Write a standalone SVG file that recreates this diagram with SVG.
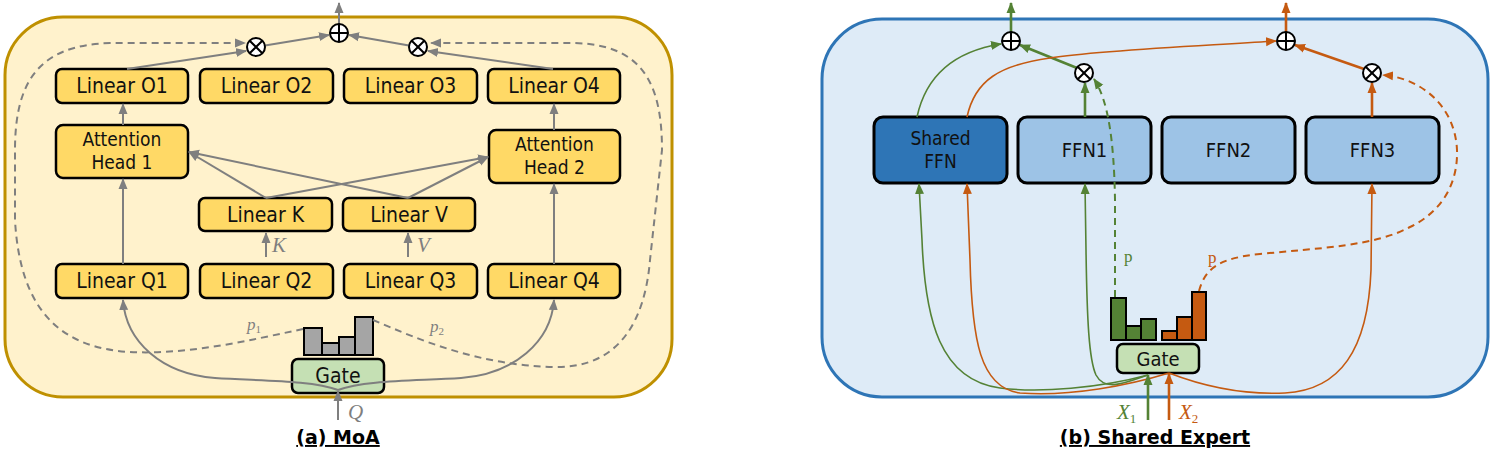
<svg xmlns="http://www.w3.org/2000/svg" width="1495" height="454" viewBox="0 0 1495 454">
<defs>
<marker id="ag" markerUnits="userSpaceOnUse" markerWidth="12" markerHeight="10" refX="10" refY="5" orient="auto"><path d="M0,0.5 L11,5 L0,9.5 z" fill="#7f7f7f"/></marker>
<marker id="agr" markerUnits="userSpaceOnUse" markerWidth="12" markerHeight="10" refX="10" refY="5" orient="auto"><path d="M0,0.5 L11,5 L0,9.5 z" fill="#548235"/></marker>
<marker id="aor" markerUnits="userSpaceOnUse" markerWidth="12" markerHeight="10" refX="10" refY="5" orient="auto"><path d="M0,0.5 L11,5 L0,9.5 z" fill="#c55a11"/></marker>
<g id="otimes"><circle r="9" fill="#fff" stroke="#000" stroke-width="2"/><path d="M-6.3,-6.3 L6.3,6.3 M6.3,-6.3 L-6.3,6.3" stroke="#000" stroke-width="2"/></g>
<g id="oplus"><circle r="9" fill="#fff" stroke="#000" stroke-width="2"/><path d="M-9,0 L9,0 M0,-9 L0,9" stroke="#000" stroke-width="2"/></g>
</defs>
<style>
.lbl{font-family:"DejaVu Sans Condensed","DejaVu Sans",sans-serif;font-size:21px;fill:#111;text-anchor:middle}
.lbl2{font-family:"DejaVu Sans Condensed","DejaVu Sans",sans-serif;font-size:19px;fill:#111;text-anchor:middle}
.lblb{font-family:"DejaVu Sans Condensed","DejaVu Sans",sans-serif;font-size:20px;fill:#111;text-anchor:middle}
.box{fill:#ffd966;stroke:#000;stroke-width:2.5}
.gate{fill:#c5e0b4;stroke:#000;stroke-width:2.5}
.mth{font-family:"Liberation Serif","DejaVu Serif",serif;font-style:italic}
.cap{font-family:"DejaVu Sans","Liberation Sans",sans-serif;font-weight:bold;font-size:19px;fill:#000;text-anchor:middle;text-decoration:underline}
.g{fill:none;stroke:#7f7f7f;stroke-width:2}
.gd{fill:none;stroke:#7f7f7f;stroke-width:2;stroke-dasharray:7,5}
.gr{fill:none;stroke:#548235;stroke-width:1.6}
.grt{fill:none;stroke:#548235;stroke-width:2.6}
.grd{fill:none;stroke:#548235;stroke-width:2;stroke-dasharray:7,5}
.or{fill:none;stroke:#c55a11;stroke-width:1.6}
.ort{fill:none;stroke:#c55a11;stroke-width:2.6}
.ord{fill:none;stroke:#c55a11;stroke-width:2;stroke-dasharray:7,5}
.bar{stroke:#000;stroke-width:2}
</style>

<!-- Panels -->
<g id="panel-a">
<rect x="5" y="17" width="667" height="380" rx="58" fill="#fff2cc" stroke="#bf9000" stroke-width="3"/>
</g>
<g id="panel-b">
<rect x="822" y="19" width="666" height="378" rx="60" fill="#deebf7" stroke="#2e75b6" stroke-width="3"/>
</g>

<!-- Panel (a) nodes -->
<g id="a-linear-o1"><rect class="box" x="56" y="69" width="132" height="34" rx="6"/><text class="lbl" x="122" y="93">Linear O1</text></g>
<g id="a-linear-o2"><rect class="box" x="200" y="69" width="133" height="34" rx="6"/><text class="lbl" x="266.5" y="93">Linear O2</text></g>
<g id="a-linear-o3"><rect class="box" x="344" y="69" width="133" height="34" rx="6"/><text class="lbl" x="410.5" y="93">Linear O3</text></g>
<g id="a-linear-o4"><rect class="box" x="488" y="69" width="132" height="34" rx="6"/><text class="lbl" x="554" y="93">Linear O4</text></g>
<g id="a-head1"><rect class="box" x="56" y="125" width="132" height="53" rx="7"/><text class="lbl2" x="122" y="146">Attention</text><text class="lbl2" x="122" y="168.5">Head 1</text></g>
<g id="a-head2"><rect class="box" x="489" y="130" width="131" height="53" rx="7"/><text class="lbl2" x="554.5" y="151">Attention</text><text class="lbl2" x="554.5" y="173.5">Head 2</text></g>
<g id="a-linear-k"><rect class="box" x="199" y="198" width="133" height="33" rx="6"/><text class="lbl" x="265.5" y="222">Linear K</text></g>
<g id="a-linear-v"><rect class="box" x="343" y="198" width="132" height="33" rx="6"/><text class="lbl" x="409" y="222">Linear V</text></g>
<g id="a-linear-q1"><rect class="box" x="56" y="264" width="132" height="34" rx="6"/><text class="lbl" x="122" y="288">Linear Q1</text></g>
<g id="a-linear-q2"><rect class="box" x="200" y="264" width="133" height="34" rx="6"/><text class="lbl" x="266.5" y="288">Linear Q2</text></g>
<g id="a-linear-q3"><rect class="box" x="344" y="264" width="133" height="34" rx="6"/><text class="lbl" x="410.5" y="288">Linear Q3</text></g>
<g id="a-linear-q4"><rect class="box" x="488" y="264" width="132" height="34" rx="6"/><text class="lbl" x="554" y="288">Linear Q4</text></g>
<g id="a-bars">
<rect class="bar" x="304" y="328" width="18" height="27" fill="#a5a5a5"/>
<rect class="bar" x="322" y="343" width="17" height="12" fill="#a5a5a5"/>
<rect class="bar" x="339" y="337" width="16" height="18" fill="#a5a5a5"/>
<rect class="bar" x="355" y="317" width="18" height="38" fill="#a5a5a5"/>
</g>
<g id="a-gate"><rect class="gate" x="292" y="359" width="92" height="34" rx="6"/><text class="lbl" x="338" y="383">Gate</text></g>

<!-- Panel (b) nodes -->
<g id="b-shared"><rect x="874" y="117" width="133" height="66" rx="9" fill="#2e75b6" stroke="#000" stroke-width="3"/><text class="lbl2" x="940.5" y="145">Shared</text><text class="lbl2" x="940.5" y="167.5">FFN</text></g>
<g id="b-ffn1"><rect x="1018" y="117" width="133" height="66" rx="9" fill="#9dc3e6" stroke="#000" stroke-width="3"/><text class="lblb" x="1084.5" y="157">FFN1</text></g>
<g id="b-ffn2"><rect x="1162" y="117" width="133" height="66" rx="9" fill="#9dc3e6" stroke="#000" stroke-width="3"/><text class="lblb" x="1228.5" y="157">FFN2</text></g>
<g id="b-ffn3"><rect x="1306" y="117" width="133" height="66" rx="9" fill="#9dc3e6" stroke="#000" stroke-width="3"/><text class="lblb" x="1372.5" y="157">FFN3</text></g>
<g id="b-bars">
<rect class="bar" x="1111" y="298" width="15" height="42" fill="#548235"/>
<rect class="bar" x="1126" y="326" width="15" height="14" fill="#548235"/>
<rect class="bar" x="1141" y="319" width="15" height="21" fill="#548235"/>
<rect class="bar" x="1162" y="331" width="15" height="9" fill="#c55a11"/>
<rect class="bar" x="1177" y="317" width="15" height="23" fill="#c55a11"/>
<rect class="bar" x="1192" y="292" width="14" height="48" fill="#c55a11"/>
</g>
<g id="b-gate"><rect class="gate" x="1117" y="344" width="82" height="29" rx="6"/><text class="lblb" x="1158" y="366">Gate</text></g>

<!-- Connectors -->
<g id="connectors">
<path class="g" d="M339,24 L339,3" marker-end="url(#ag)"/>
<path class="g" d="M265,45.5 L329,35" marker-end="url(#ag)"/>
<path class="g" d="M409,45.5 L349,35" marker-end="url(#ag)"/>
<path class="g" d="M127,69 L246,51" marker-end="url(#ag)"/>
<path class="g" d="M553,69 L428,51" marker-end="url(#ag)"/>
<path class="g" d="M123,125 L123,104" marker-end="url(#ag)"/>
<path class="g" d="M123,264 L123,179" marker-end="url(#ag)"/>
<path class="g" d="M554,130 L554,104" marker-end="url(#ag)"/>
<path class="g" d="M554,264 L554,184" marker-end="url(#ag)"/>
<path class="g" d="M266,198 L189,152" marker-end="url(#ag)"/>
<path class="g" d="M408,198 L189,152" marker-end="url(#ag)"/>
<path class="g" d="M266,198 L488,157" marker-end="url(#ag)"/>
<path class="g" d="M408,198 L488,157" marker-end="url(#ag)"/>
<path class="g" d="M266,257 L266,233" marker-end="url(#ag)"/>
<path class="g" d="M408,257 L408,233" marker-end="url(#ag)"/>
<path class="g" d="M338,420 L338,391" marker-end="url(#ag)"/>
<path class="g" d="M338,390 C312,380 262,381 215,378 C162,374 126,342 123,300" marker-end="url(#ag)"/>
<path class="g" d="M338,390 C364,380 414,381 461,378 C514,374 551,342 554,300" marker-end="url(#ag)"/>
<path class="gd" d="M303,329 C250,340 190,355 130,352 C60,348 20,310 15,220 L15,150 C15,80 40,45 110,43 L245,43" marker-end="url(#ag)"/>
<path class="gd" d="M373,320 C420,340 480,366 557,367 C620,367 645,320 650,260 L662,150 C662,80 640,45 575,43 L431,43" marker-end="url(#ag)"/>

<path class="grt" d="M1011,32 L1011,3" marker-end="url(#agr)"/>
<path class="ort" d="M1286,32 L1286,3" marker-end="url(#aor)"/>
<path class="gr" d="M917,117 C925,80 950,52 1001,44" marker-end="url(#agr)"/>
<path class="grt" d="M1077,68 L1020,45" marker-end="url(#agr)"/>
<path class="grt" d="M1085,117 L1085,83" marker-end="url(#agr)"/>
<path class="grd" d="M1115,297 L1115,200 C1114,140 1108,100 1094,79" marker-end="url(#agr)"/>
<path class="or" d="M967,117 C975,80 1000,65 1050,58 C1100,50 1200,46 1276,41" marker-end="url(#aor)"/>
<path class="ort" d="M1364,69 L1295,45" marker-end="url(#aor)"/>
<path class="ort" d="M1372,117 L1372,83" marker-end="url(#aor)"/>
<path class="ord" d="M1199,291 C1205,268 1220,258 1260,254 C1320,248 1375,246 1410,227 C1445,210 1458,180 1457,150 C1455,105 1420,78 1383,75" marker-end="url(#aor)"/>
<path class="gr" d="M1148,375 C1100,388 1040,393 1000,388 C940,380 925,320 922,240 L919,184" marker-end="url(#agr)"/>
<path class="gr" d="M1148,375 C1125,383 1105,392 1096,375 C1089,360 1087,320 1086,250 L1085,184" marker-end="url(#agr)"/>
<path class="or" d="M1169,373 C1130,385 1070,397 1020,393 C980,388 972,340 970,260 L967,184" marker-end="url(#aor)"/>
<path class="or" d="M1169,373 C1200,385 1240,395 1285,393 C1340,390 1368,350 1371,270 L1372,184" marker-end="url(#aor)"/>
<path class="grt" d="M1148,420 L1148,375" marker-end="url(#agr)"/>
<path class="ort" d="M1169,420 L1169,374" marker-end="url(#aor)"/>
</g>

<!-- Operators -->
<g id="a-otimes1"><use href="#otimes" x="256" y="47"/></g>
<g id="a-oplus"><use href="#oplus" x="339" y="33"/></g>
<g id="a-otimes2"><use href="#otimes" x="418" y="47"/></g>
<g id="b-oplus1"><use href="#oplus" x="1011" y="41"/></g>
<g id="b-otimes1"><use href="#otimes" x="1084" y="73"/></g>
<g id="b-oplus2"><use href="#oplus" x="1286" y="41"/></g>
<g id="b-otimes2"><use href="#otimes" x="1372" y="73"/></g>

<!-- Labels -->
<g id="a-math" fill="#7f7f7f">
<text class="mth" x="272" y="252" font-size="21">K</text>
<text class="mth" x="417" y="252" font-size="21">V</text>
<text class="mth" x="348" y="419" font-size="21">Q</text>
<text class="mth" x="247" y="330" font-size="17">p<tspan font-size="11" dy="3" font-style="normal">1</tspan></text>
<text class="mth" x="430" y="332" font-size="17">p<tspan font-size="11" dy="3" font-style="normal">2</tspan></text>
</g>
<text class="cap" x="338" y="444">(a) MoA</text>

<g id="b-math">
<text x="1124" y="262" font-family="Liberation Serif, serif" font-size="17" fill="#548235">p</text>
<text x="1208" y="263" font-family="Liberation Serif, serif" font-size="17" fill="#c55a11">p</text>
<text class="mth" x="1117" y="419" font-size="21" fill="#548235">X<tspan font-size="13" dy="4" font-style="normal">1</tspan></text>
<text class="mth" x="1179" y="419" font-size="21" fill="#c55a11">X<tspan font-size="13" dy="4" font-style="normal">2</tspan></text>
</g>
<text class="cap" x="1155" y="444">(b) Shared Expert</text>
</svg>
